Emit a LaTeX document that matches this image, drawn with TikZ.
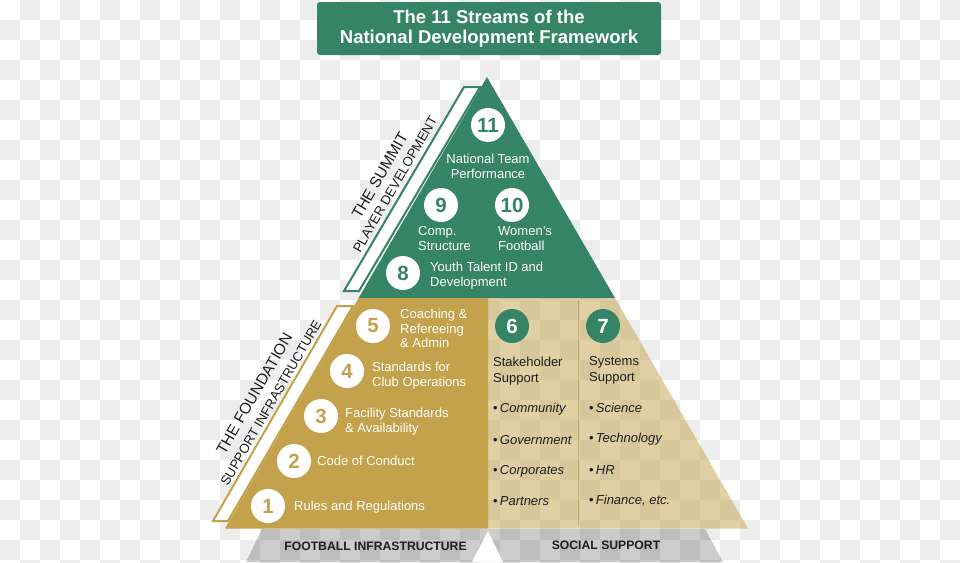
\documentclass[tikz,border=0pt]{standalone}
\usepackage{fontspec}
\setmainfont{Liberation Sans}
\usetikzlibrary{positioning}
\definecolor{fwgreen}{HTML}{358467}
\definecolor{fwgold}{HTML}{C4A24B}
\definecolor{checker}{HTML}{EDEDED}
\definecolor{ink}{HTML}{1E1E1E}

\tikzset{
  bubble/.style={circle, fill=white, minimum size=34pt, inner sep=0pt,
    font=\fontsize{20.5}{20}\selectfont\bfseries},
  lbl/.style={inner sep=0pt, text=white, align=left, anchor=west,
    font=\fontsize{13}{15}\selectfont},
  dlbl/.style={lbl, text=ink},
  bullet/.style={dlbl, font=\fontsize{13}{15}\selectfont\itshape},
  sidelbl/.style={inner sep=0pt, rotate=60, text=ink,
    font=\fontsize{15.5}{15}\selectfont},
  subsidelbl/.style={sidelbl, font=\fontsize{13.2}{13}\selectfont},
  baselbl/.style={inner sep=0pt, text=ink, font=\fontsize{12.2}{12}\selectfont\bfseries}
}

\begin{document}
\begin{tikzpicture}[x=1pt, y=-1pt]
  \useasboundingbox (0,0) rectangle (960,562);
  \fill[white] (0,0) rectangle (960,562);

  % checker background
  \begin{scope}
    \clip (0,0) rectangle (960,562);
    \foreach \j in {0,...,28} {
      \foreach \i in {0,2,...,46} {
        \pgfmathtruncatemacro\ii{\i+1-mod(\j,2)}
        \fill[checker] (\ii*20,\j*20) rectangle ++(20,20);
      }
    }
  \end{scope}

  % title
  \node[fill=fwgreen, rounded corners=3pt, minimum width=344pt, minimum height=53pt,
    text=white, align=center, font=\fontsize{18.5}{19.5}\selectfont\bfseries]
    (title) at (489,28.5) {The 11 Streams of the\\National Development Framework};

  % base bands
  \fill[black, opacity=0.2] (262,529) -- (705,529) -- (723,562) -- (246,562) -- cycle;
  \fill[white] (488,531) -- (503,562) -- (472,562) -- cycle;

  % pyramid
  \fill[fwgreen] (487,77) -- (615,298) -- (358.6,298) -- cycle;
  \fill[fwgold] (358.6,298) -- (488,298) -- (488,528.5) -- (225,528.5) -- cycle;
  \fill[fwgold, opacity=0.5] (488,298) -- (615,298) -- (748,528.5) -- (488,528.5) -- cycle;
  \draw[fwgold!70!black, opacity=0.35, line width=0.8pt] (578,300) -- (578,527);

  % side strips
  \draw[fwgreen, line width=2pt, fill=white] (464,87) -- (480,87) -- (359,291) -- (344,291) -- cycle;
  \draw[fwgold, line width=2pt, fill=white] (337,306) -- (353,306) -- (228,521) -- (213,521) -- cycle;

  \node[sidelbl] (summit) at (379.8,175.5) {THE SUMMIT};
  \node[subsidelbl] (playerdev) at (395,184.5) {PLAYER DEVELOPMENT};
  \node[sidelbl] (found) at (254.3,393.5) {THE FOUNDATION};
  \node[subsidelbl] (supinfra) at (271,403) {SUPPORT INFRASTRUCTURE};

  % summit streams
  \node[bubble, text=fwgreen] (n11) at (488,125) {11};
  \node[bubble, text=fwgreen] (n9) at (441,205) {9};
  \node[bubble, text=fwgreen] (n10) at (512,205) {10};
  \node[bubble, text=fwgreen] (n8) at (403,273) {8};
  \node[lbl, anchor=center, align=center] (t11) at (488,166) {National Team\\Performance};
  \node[lbl] (t9) at (418,238.5) {Comp.\\Structure};
  \node[lbl] (t10) at (498,238.5) {Women’s\\Football};
  \node[lbl] (t8) at (430,276) {Youth Talent ID and\\Development};

  % foundation streams
  \node[bubble, text=fwgold] (n5) at (373,326) {5};
  \node[bubble, text=fwgold] (n4) at (347,371) {4};
  \node[bubble, text=fwgold] (n3) at (321,416) {3};
  \node[bubble, text=fwgold] (n2) at (294,461) {2};
  \node[bubble, text=fwgold] (n1) at (268,506) {1};
  \node[lbl, font=\fontsize{13}{14.5}\selectfont] (t5) at (400,328.5) {Coaching \&\\Refereeing\\\& Admin};
  \node[lbl] (t4) at (372,376) {Standards for\\Club Operations};
  \node[lbl] (t3) at (345,422) {Facility Standards\\\& Availability};
  \node[lbl] (t2) at (317,461) {Code of Conduct};
  \node[lbl] (t1) at (294,507) {Rules and Regulations};

  % support streams
  \node[bubble, fill=fwgreen, text=white] (n6) at (512,326) {6};
  \node[bubble, fill=fwgreen, text=white] (n7) at (603,326) {7};
  \node[dlbl, font=\fontsize{13}{16}\selectfont] (t6) at (493,371) {Stakeholder\\Support};
  \node[dlbl, font=\fontsize{13}{16}\selectfont] (t7) at (589,370.5) {Systems\\Support};
  \foreach \name/\txt/\yy in {b61/Community/409, b62/Government/440, b63/Corporates/471, b64/Partners/501}
    \node[bullet] (\name) at (493,\yy) {\textup{•}\,\txt};
  \foreach \name/\txt/\yy in {b71/Science/408, b72/Technology/439, b73/HR/470, b74/{Finance, etc.}/501}
    \node[bullet] (\name) at (589,\yy) {\textup{•}\,\txt};

  % base labels
  \node[baselbl] (football) at (375.5,546) {FOOTBALL INFRASTRUCTURE};
  \node[baselbl] (social) at (606,545) {SOCIAL SUPPORT};
\end{tikzpicture}
\end{document}
